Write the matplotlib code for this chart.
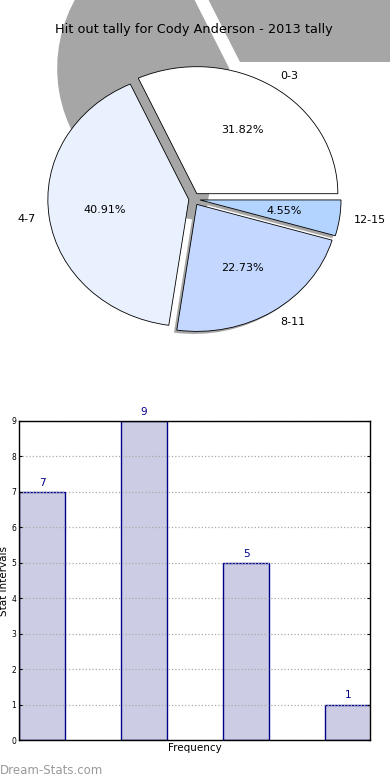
import math
import matplotlib
matplotlib.use("Agg")
import matplotlib.pyplot as plt
import matplotlib.patches as mpatches

# data
pie_labels = ["0-3", "4-7", "8-11", "12-15"]
pie_values = [7, 9, 5, 1]
pie_colors = ["#ffffff", "#e9f0fe", "#c4d7fe", "#b3d4fe"]

bar_labels = ["0-3", "4-7", "8-11", "12-15"]
bar_values = [7, 9, 5, 1]

title = "Hit out tally for Cody Anderson - 2013 tally"

shadow_gray = "#a6a6a6"

fig = plt.figure(figsize=(3.9, 7.8), dpi=100)

# ---- pie (elliptical, like the old renderer) ----
ax1 = fig.add_axes([0, 1 - 370 / 780, 1, 370 / 780])
explode = [0.05, 0.03, 0.05, 0.05]

# the first two wedges cast a big displaced shadow
total = float(sum(pie_values))
theta1 = 0.0
sh_center = (0.306, 1.037)
sh_radius = 1.22
for v in pie_values[:2]:
    theta2 = theta1 + v / total
    tm = math.pi * (theta1 + theta2)
    cx = sh_center[0] + 0.05 * math.cos(tm)
    cy = sh_center[1] + 0.05 * math.sin(tm)
    ax1.add_patch(mpatches.Wedge((cx, cy), sh_radius, 360 * theta1, 360 * theta2,
                                 facecolor=shadow_gray, edgecolor="none", zorder=0))
    theta1 = theta2

wedges, texts, autotexts = ax1.pie(pie_values, labels=pie_labels, colors=pie_colors,
                                   explode=explode, autopct="%.2f%%",
                                   startangle=0, textprops={"fontsize": 8},
                                   wedgeprops={"edgecolor": "black", "linewidth": 0.6})
for w in wedges:
    w.set_zorder(2)
for t in texts + autotexts:
    t.set_zorder(3)

# the last two wedges get an ordinary small drop shadow
for w in wedges[2:]:
    cx, cy = w.center
    ax1.add_patch(mpatches.Wedge((cx - 0.02, cy - 0.02), w.r, w.theta1, w.theta2,
                                 facecolor=shadow_gray, edgecolor="none", zorder=1))

ax1.set_aspect("auto")
ax1.set_xlim(-1.369, 1.397)
ax1.set_ylim(-1.346, 1.567)
ax1.axis("off")

fig.text(0.497, 1 - 30 / 780, title, ha="center", va="center", fontsize=9.3)

# ---- bars ----
ax2 = fig.add_axes([19 / 390, 1 - 740 / 780, 351 / 390, 319 / 780])
xpos = list(range(len(bar_values)))
bars = ax2.bar(xpos, bar_values, width=0.45, align="edge",
               color="#ccccE5", edgecolor="#00008b", linewidth=1.0, zorder=1)
for b, v in zip(bars, bar_values):
    ax2.text(b.get_x() + b.get_width() / 2, v + 0.12, str(v), ha="center", va="bottom",
             color="#00008b", fontsize=7.5)
ax2.set_xlim(0, 3.44)
ax2.set_ylim(0, 9)
ax2.set_yticks(range(0, 10))
ax2.set_xticks([])
ax2.tick_params(axis="y", labelsize=5.5, direction="in", length=2, right=True, pad=2)
ax2.yaxis.grid(True, linestyle=":", color="#aaaaaa", linewidth=0.9)
ax2.set_axisbelow("line")
for s in ax2.spines.values():
    s.set_linewidth(1.0)
ax2.set_xlabel("Frequency", fontsize=7.5, labelpad=2)
ax2.set_ylabel("Stat intervals", fontsize=7.5, labelpad=2)

fig.text(0.0, 1 - 771 / 780, "Dream-Stats.com", ha="left", va="center",
         fontsize=8.5, color="#999999")

fig.savefig("out.png", dpi=100)
